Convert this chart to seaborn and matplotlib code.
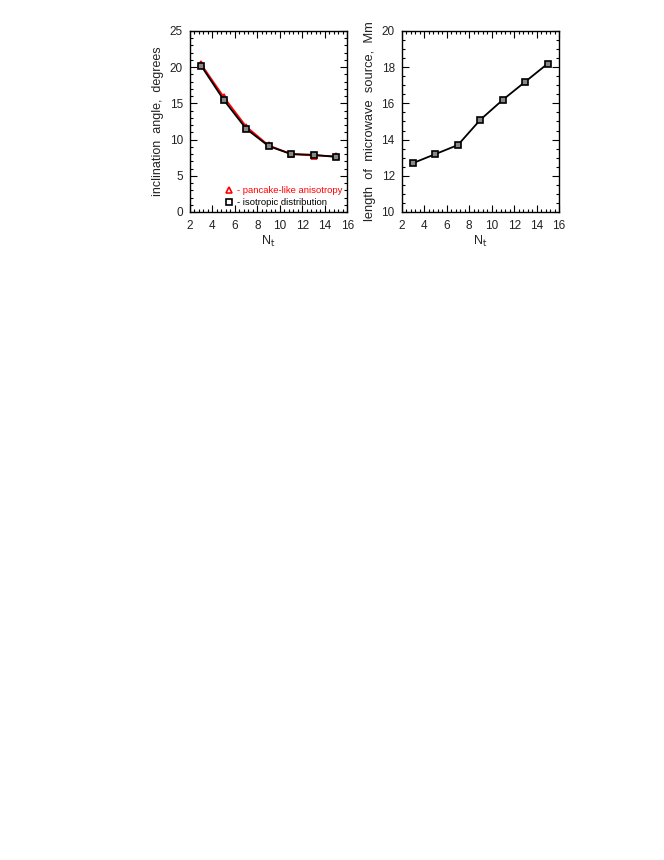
import matplotlib
matplotlib.use("Agg")
import matplotlib.pyplot as plt
import seaborn as sns
import pandas as pd
from matplotlib.lines import Line2D
from matplotlib.ticker import MultipleLocator

nt = [3, 5, 7, 9, 11, 13, 15]
angle_pancake = [20.4, 15.9, 11.8, 9.2, 8.0, 7.8, 7.7]
angle_isotropic = [20.2, 15.5, 11.5, 9.1, 8.0, 7.9, 7.6]
source_length = [12.7, 13.2, 13.7, 15.1, 16.2, 17.2, 18.2]

sns.set_theme(style="ticks")
plt.rcParams['font.family'] = ['Liberation Sans', 'DejaVu Sans']

fig = plt.figure(figsize=(6.64, 8.6), dpi=100)
ax1 = fig.add_axes([0.286, 0.7535, 0.237, 0.2105])
ax2 = fig.add_axes([0.605, 0.7535, 0.237, 0.2105])

df1 = pd.DataFrame({"Nt": nt + nt,
                    "angle": angle_pancake + angle_isotropic,
                    "kind": ["pancake"] * len(nt) + ["isotropic"] * len(nt)})
sns.lineplot(data=df1[df1.kind == "pancake"], x="Nt", y="angle", ax=ax1,
             color="red", marker="^", markersize=5, markerfacecolor="none",
             markeredgecolor="red", markeredgewidth=1.2, linewidth=1.3)
sns.lineplot(data=df1[df1.kind == "isotropic"], x="Nt", y="angle", ax=ax1,
             color="black", marker="s", markersize=5, markerfacecolor="#888888",
             markeredgecolor="black", markeredgewidth=1.2, linewidth=1.3)

df2 = pd.DataFrame({"Nt": nt, "length": source_length})
sns.lineplot(data=df2, x="Nt", y="length", ax=ax2, color="black", marker="s",
             markersize=5, markerfacecolor="#888888", markeredgecolor="black",
             markeredgewidth=1.2, linewidth=1.3)

for ax in (ax1, ax2):
    ax.set_xlim(2, 16)
    ax.xaxis.set_major_locator(MultipleLocator(2))
    ax.xaxis.set_minor_locator(MultipleLocator(0.4))
    ax.tick_params(which="both", direction="in", top=True, right=True,
                   labelsize=8.5, colors="black", labelcolor="#222222", width=0.8)
    ax.tick_params(which="major", length=5)
    ax.tick_params(axis="x", which="major", pad=6)
    ax.tick_params(axis="y", which="major", pad=5)
    ax.tick_params(which="minor", length=2.5)
    for s in ax.spines.values():
        s.set_visible(True)
        s.set_linewidth(1.0)
        s.set_color("black")
    ax.set_xlabel("N$_\\mathrm{t}$", fontsize=9, labelpad=1, color="#222222")

ax1.set_ylim(0, 25)
ax1.yaxis.set_major_locator(MultipleLocator(5))
ax1.yaxis.set_minor_locator(MultipleLocator(1))
ax1.set_ylabel("inclination  angle,  degrees", fontsize=9, labelpad=4,
               color="#222222")

ax2.set_ylim(10, 20)
ax2.yaxis.set_major_locator(MultipleLocator(2))
ax2.yaxis.set_minor_locator(MultipleLocator(0.5))
ax2.set_ylabel("length  of  microwave  source,  Mm", fontsize=9.3, labelpad=4,
               color="#222222")

handles = [Line2D([], [], linestyle="none", marker="^", markersize=5,
                  markerfacecolor="none", markeredgecolor="red", markeredgewidth=1.2),
           Line2D([], [], linestyle="none", marker="s", markersize=5,
                  markerfacecolor="none", markeredgecolor="black", markeredgewidth=1.2)]
ax1.legend(handles, ["- pancake-like anisotropy", "- isotropic distribution"],
           loc="lower right", bbox_to_anchor=(1.0, 0.0), frameon=False,
           fontsize=6.8, handlelength=0.8, handletextpad=0.5, labelspacing=0.35,
           borderaxespad=0.0, borderpad=0.5, labelcolor=["red", "black"])

fig.savefig("out.png", dpi=100)
